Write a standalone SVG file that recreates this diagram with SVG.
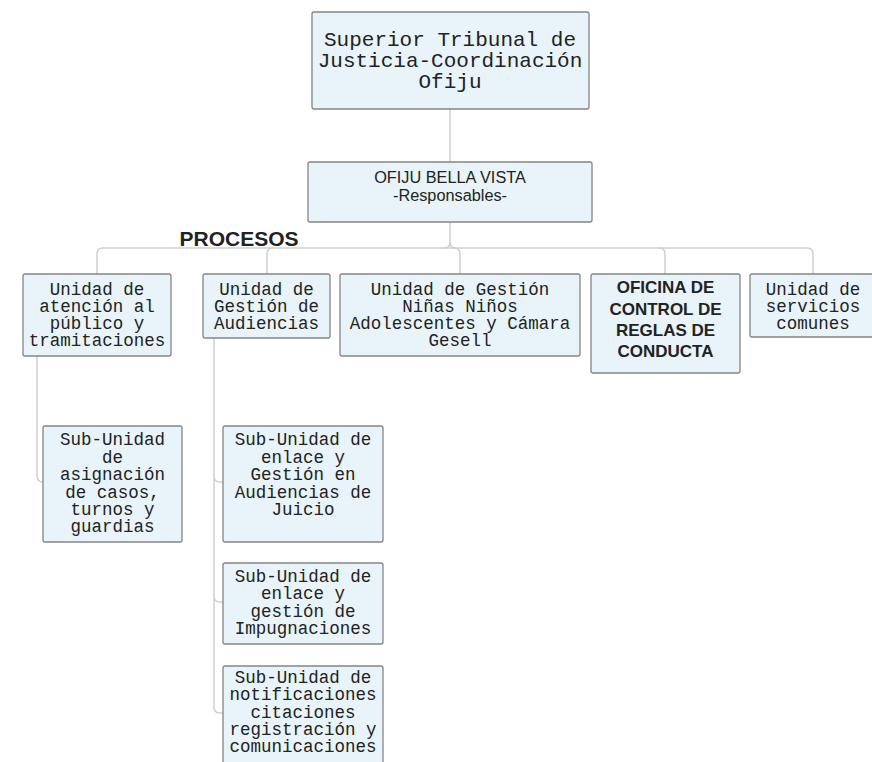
<svg xmlns="http://www.w3.org/2000/svg" width="872" height="762" viewBox="0 0 872 762">
<style>
.box{fill:#e8f4fa;stroke:#858585;stroke-width:1.3}
.conn{fill:none;stroke:#cfcfcf;stroke-width:1.5}
.mono{font-family:"Liberation Mono","Courier New",monospace;font-size:17.5px;fill:#222;text-anchor:middle}
.big{font-size:21px}
.sans{font-family:"Liberation Sans",Arial,sans-serif;fill:#222;text-anchor:middle}
.bold{font-weight:bold}
</style>
<rect width="872" height="762" fill="#ffffff"/>
<g id="connectors">
<path class="conn" d="M450 109 V162"/>
<path class="conn" d="M450 222 V242 Q450 248 444 248 M450 242 Q450 248 456 248"/>
<path class="conn" d="M97 274 V254 Q97 248 103 248 H807 Q813 248 813 254 V274"/>
<path class="conn" d="M267 274 V254 Q267 248 273 248"/>
<path class="conn" d="M460 274 V254 Q460 248 454 248"/>
<path class="conn" d="M665 274 V254 Q665 248 659 248"/>
<path class="conn" d="M37 356 V476 Q37 482 43 482"/>
<path class="conn" d="M214 338 V707 Q214 713 220 713 H223 M214 476 Q214 482 220 482 H223 M214 596 Q214 602 220 602 H223"/>
</g>
<g id="n-top">
<rect class="box" x="312" y="12" width="277" height="97" rx="2"/>
<text class="mono big" x="450" y="46">Superior Tribunal de</text>
<text class="mono big" x="450" y="67">Justicia-Coordinación</text>
<text class="mono big" x="450" y="88">Ofiju</text>
</g>
<g id="n-ofiju">
<rect class="box" x="308" y="162" width="284" height="60" rx="2"/>
<text class="sans" font-size="16.3" x="450" y="183">OFIJU BELLA VISTA</text>
<text class="sans" font-size="16.3" x="450" y="201">-Responsables-</text>
</g>
<g id="label-procesos">
<text class="sans bold" font-size="21" x="239" y="246">PROCESOS</text>
</g>
<g id="n-atencion">
<rect class="box" x="23" y="274" width="148" height="82" rx="2"/>
<text class="mono" x="97" y="295">Unidad de</text>
<text class="mono" x="97" y="312">atención al</text>
<text class="mono" x="97" y="329">público y</text>
<text class="mono" x="97" y="346">tramitaciones</text>
</g>
<g id="n-audiencias">
<rect class="box" x="203" y="274" width="127" height="64" rx="2"/>
<text class="mono" x="266.5" y="295">Unidad de</text>
<text class="mono" x="266.5" y="312">Gestión de</text>
<text class="mono" x="266.5" y="329">Audiencias</text>
</g>
<g id="n-ninas">
<rect class="box" x="340" y="274" width="240" height="82" rx="2"/>
<text class="mono" x="460" y="295">Unidad de Gestión</text>
<text class="mono" x="460" y="312">Niñas Niños</text>
<text class="mono" x="460" y="329">Adolescentes y Cámara</text>
<text class="mono" x="460" y="346">Gesell</text>
</g>
<g id="n-oficina">
<rect class="box" x="591" y="274" width="149" height="99" rx="2"/>
<text class="sans bold" font-size="17" x="665.5" y="293">OFICINA DE</text>
<text class="sans bold" font-size="17" x="665.5" y="315">CONTROL DE</text>
<text class="sans bold" font-size="17" x="665.5" y="336">REGLAS DE</text>
<text class="sans bold" font-size="17" x="665.5" y="357">CONDUCTA</text>
</g>
<g id="n-servicios">
<rect class="box" x="750" y="274" width="126" height="63" rx="2"/>
<text class="mono" x="813" y="295">Unidad de</text>
<text class="mono" x="813" y="312">servicios</text>
<text class="mono" x="813" y="329">comunes</text>
</g>
<g id="n-asignacion">
<rect class="box" x="43" y="426" width="139" height="116" rx="2"/>
<text class="mono" x="112.5" y="445">Sub-Unidad</text>
<text class="mono" x="112.5" y="463">de</text>
<text class="mono" x="112.5" y="480">asignación</text>
<text class="mono" x="112.5" y="498">de casos,</text>
<text class="mono" x="112.5" y="515">turnos y</text>
<text class="mono" x="112.5" y="532">guardias</text>
</g>
<g id="n-juicio">
<rect class="box" x="223" y="426" width="160" height="116" rx="2"/>
<text class="mono" x="303" y="445">Sub-Unidad de</text>
<text class="mono" x="303" y="463">enlace y</text>
<text class="mono" x="303" y="480">Gestión en</text>
<text class="mono" x="303" y="498">Audiencias de</text>
<text class="mono" x="303" y="515">Juicio</text>
</g>
<g id="n-impugnaciones">
<rect class="box" x="223" y="563" width="160" height="81" rx="2"/>
<text class="mono" x="303" y="582">Sub-Unidad de</text>
<text class="mono" x="303" y="599">enlace y</text>
<text class="mono" x="303" y="617">gestión de</text>
<text class="mono" x="303" y="634">Impugnaciones</text>
</g>
<g id="n-notificaciones">
<rect class="box" x="223" y="666" width="160" height="110" rx="2"/>
<text class="mono" x="303" y="683">Sub-Unidad de</text>
<text class="mono" x="303" y="700">notificaciones</text>
<text class="mono" x="303" y="718">citaciones</text>
<text class="mono" x="303" y="735">registración y</text>
<text class="mono" x="303" y="752">comunicaciones</text>
</g>
</svg>
